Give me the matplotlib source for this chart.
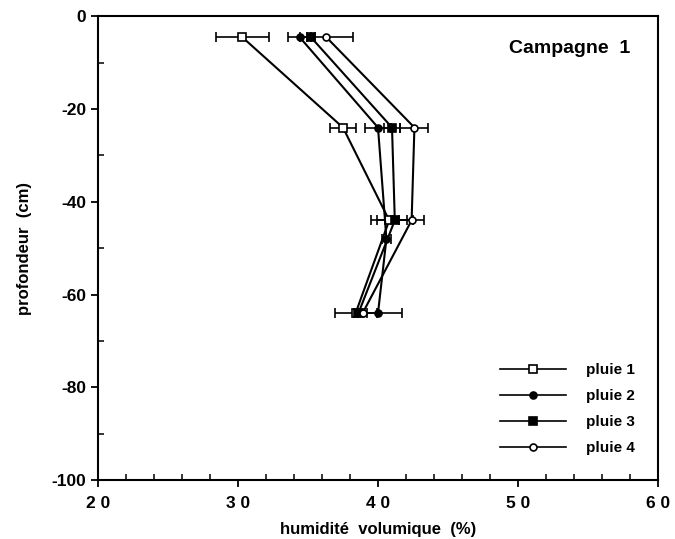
import matplotlib
matplotlib.use("Agg")
import matplotlib.pyplot as plt
from matplotlib.ticker import MultipleLocator
from matplotlib.lines import Line2D

plt.rcParams['font.family'] = ['Liberation Sans', 'DejaVu Sans']
plt.rcParams['font.weight'] = 'bold'
plt.rcParams['axes.unicode_minus'] = False

# profils d'humidite, campagne 1
prof_1 = [-4.5, -24, -44, -64]
hum_1 = [30.3, 37.5, 40.8, 38.4]
err_1 = [1.9, 0.9, 1.3, 1.5]

prof_2 = [-4.5, -24, -48, -64]
hum_2 = [34.4, 40.0, 40.6, 40.0]
err_2 = [0.8, 0.9, 0.3, 1.7]

prof_3 = [-4.5, -24, -44, -64]
hum_3 = [35.2, 41.0, 41.2, 38.6]
err_3 = [0.3, 0.6, 1.3, 0.3]

prof_4 = [-4.5, -24, -44, -64]
hum_4 = [36.3, 42.6, 42.4, 38.9]
err_4 = [1.9, 1.0, 0.9, 0.3]

series = [
	("pluie 1", hum_1, prof_1, err_1, dict(marker='s', mfc='white', ms=6)),
	("pluie 2", hum_2, prof_2, err_2, dict(marker='o', mfc='black', ms=5)),
	("pluie 3", hum_3, prof_3, err_3, dict(marker='s', mfc='black', ms=6)),
	("pluie 4", hum_4, prof_4, err_4, dict(marker='o', mfc='white', ms=5)),
]

fig = plt.figure(figsize=(6.75, 5.39), dpi=100)
ax = fig.add_axes([0.145, 0.109, 0.83, 0.861])

handles = []
for label, x, y, e, style in series:
	ax.errorbar(x, y, xerr=e, color='black', lw=1.5, mec='black', mew=1.2,
		elinewidth=1.2, capsize=3.5, capthick=1.2, **style)
	handles.append(Line2D([], [], color='black', lw=1.2, mec='black', mew=1.2,
		label=label, **style))

ax.set_xlim(20, 60)
ax.set_ylim(-100, 0)
ax.xaxis.set_minor_locator(MultipleLocator(2))
ax.yaxis.set_major_locator(MultipleLocator(20))
ax.yaxis.set_minor_locator(MultipleLocator(10))
ax.set_xticks([20, 30, 40, 50, 60])
ax.set_xticklabels(["2 0", "3 0", "4 0", "5 0", "6 0"])
ax.tick_params(which='major', direction='out', length=5, width=1.3, labelsize=12.5)
ax.tick_params(which='minor', direction='in', length=4, width=1.1)
ax.tick_params(axis='x', pad=6)
for sp in ax.spines.values():
	sp.set_linewidth(1.5)

ax.set_xlabel("humidité  volumique  (%)", fontsize=12, fontweight='bold', labelpad=8)
ax.set_ylabel("profondeur  (cm)", fontsize=12, fontweight='bold', labelpad=14)

ax.text(0.95, 0.93, "Campagne  1", transform=ax.transAxes, ha='right', va='center',
	fontsize=14, fontweight='bold')

leg = ax.legend(handles=handles, loc='lower right', bbox_to_anchor=(0.983, 0.025),
	frameon=False, fontsize=11, handlelength=4.3, handletextpad=1.3, labelspacing=0.78)
for t in leg.get_texts():
	t.set_fontweight('bold')

fig.savefig("out.png", dpi=100)
